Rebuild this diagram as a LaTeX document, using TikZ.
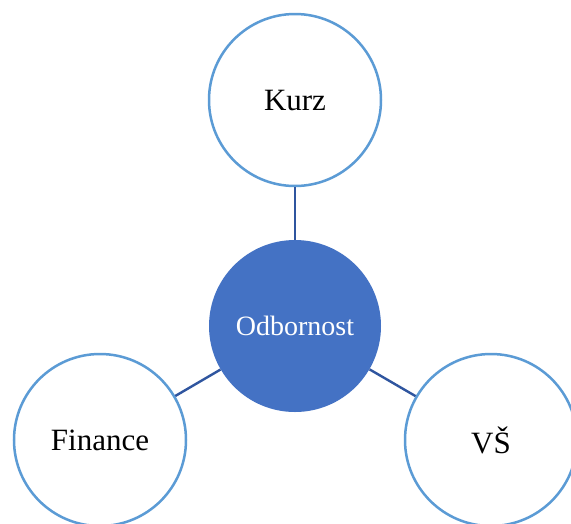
\documentclass[tikz,border=0pt]{standalone}
\usepackage{fontspec}
\setmainfont{Liberation Serif}
\definecolor{ringblue}{HTML}{5B9BD5}
\definecolor{hubblue}{HTML}{4472C4}
\definecolor{linkblue}{HTML}{2F559F}
\begin{document}
\begin{tikzpicture}[x=1pt,y=-1pt,
  leaf/.style={circle,draw=ringblue,line width=2.5pt,fill=white,minimum size=172pt,inner sep=0pt,font=\fontsize{31}{36}\selectfont},
  hub/.style={circle,fill=hubblue,draw=none,minimum size=172pt,inner sep=0pt,text=white,font=\fontsize{28}{32}\selectfont},
  link/.style={draw=linkblue,line width=2.4pt}]
\clip (0,0) rectangle (571,523);
\fill[white] (0,0) rectangle (571,523);
\node[hub] (hub) at (295,326) {Odbornost};
\node[leaf] (kurz) at (295,100) {Kurz};
\node[leaf] (fin) at (100,440) {Finance};
\node[leaf] (vs) at (491,440) {VŠ};
\draw[link] (hub) -- (kurz);
\draw[link] (hub) -- (fin);
\draw[link] (hub) -- (vs);
\end{tikzpicture}
\end{document}
